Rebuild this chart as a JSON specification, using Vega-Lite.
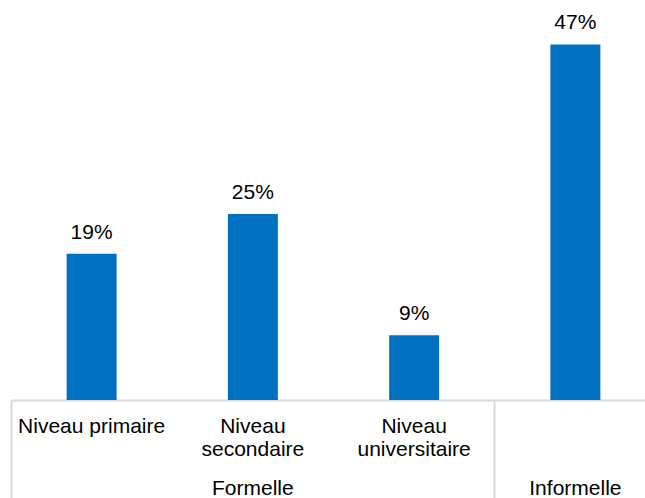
{
  "$schema": "https://vega.github.io/schema/vega-lite/v6.json",
  "width": 634,
  "height": 400,
  "autosize": {"type": "none"},
  "padding": {"left": 11, "right": 0, "top": 0, "bottom": 98},
  "background": "white",
  "config": {"view": {"stroke": null}, "font": "Liberation Sans"},
  "data": {
    "values": [
      {"group": "Formelle", "cat": "Niveau primaire", "value": 0.194},
      {"group": "Formelle", "cat": "Niveau secondaire", "value": 0.247},
      {"group": "Formelle", "cat": "Niveau universitaire", "value": 0.086},
      {"group": "Informelle", "cat": "Informelle", "value": 0.472}
    ]
  },
  "encoding": {
    "x": {
      "field": "cat",
      "type": "nominal",
      "sort": null,
      "scale": {"range": [0, 645], "paddingInner": 0.69, "paddingOuter": 0.345}
    },
    "y": {
      "field": "value",
      "type": "quantitative",
      "scale": {"domain": [0, 0.531], "nice": false, "zero": true},
      "axis": null
    }
  },
  "layer": [
    {
      "mark": {"type": "bar", "color": "#0070C0"},
      "encoding": {
        "x": {
          "field": "cat",
          "type": "nominal",
          "sort": null,
          "axis": {
            "orient": "bottom",
            "title": null,
            "labelAngle": 0,
            "ticks": false,
            "domain": true,
            "domainColor": "#d9d9d9",
            "domainWidth": 2,
            "labelFontSize": 21,
            "labelColor": "#000000",
            "labelFont": "Liberation Sans",
            "labelBaseline": "top",
            "labelPadding": 15,
            "labelLineHeight": 23,
            "labelOverlap": false,
            "labelLimit": 0,
            "labelExpr": "datum.value == 'Niveau secondaire' ? ['Niveau','secondaire'] : datum.value == 'Niveau universitaire' ? ['Niveau','universitaire'] : datum.value == 'Informelle' ? '' : datum.value"
          }
        }
      }
    },
    {
      "mark": {"type": "text", "fontSize": 21, "color": "#000000", "baseline": "alphabetic", "dy": -15, "font": "Liberation Sans"},
      "encoding": {
        "x": {
          "field": "cat",
          "type": "nominal",
          "sort": null,
          "axis": {
            "orient": "bottom",
            "title": null,
            "values": ["Niveau primaire", "Informelle"],
            "bandPosition": -1.1125,
            "domain": false,
            "ticks": true,
            "tickSize": 98,
            "tickWidth": 2,
            "tickColor": "#d9d9d9",
            "labelAngle": 0,
            "labelFontSize": 21,
            "labelColor": "#000000",
            "labelFont": "Liberation Sans",
            "labelBaseline": "top",
            "labelAlign": "center",
            "labelPadding": -21,
            "labelOverlap": false,
            "labelLimit": 0,
            "labelOffset": {"condition": {"test": "datum.value == 'Informelle'", "value": 0}, "value": 161.25},
            "labelExpr": "datum.value == 'Informelle' ? 'Informelle' : 'Formelle'"
          }
        },
        "text": {"field": "value", "type": "quantitative", "format": ".0%"}
      }
    }
  ],
  "resolve": {"axis": {"x": "independent"}}
}
